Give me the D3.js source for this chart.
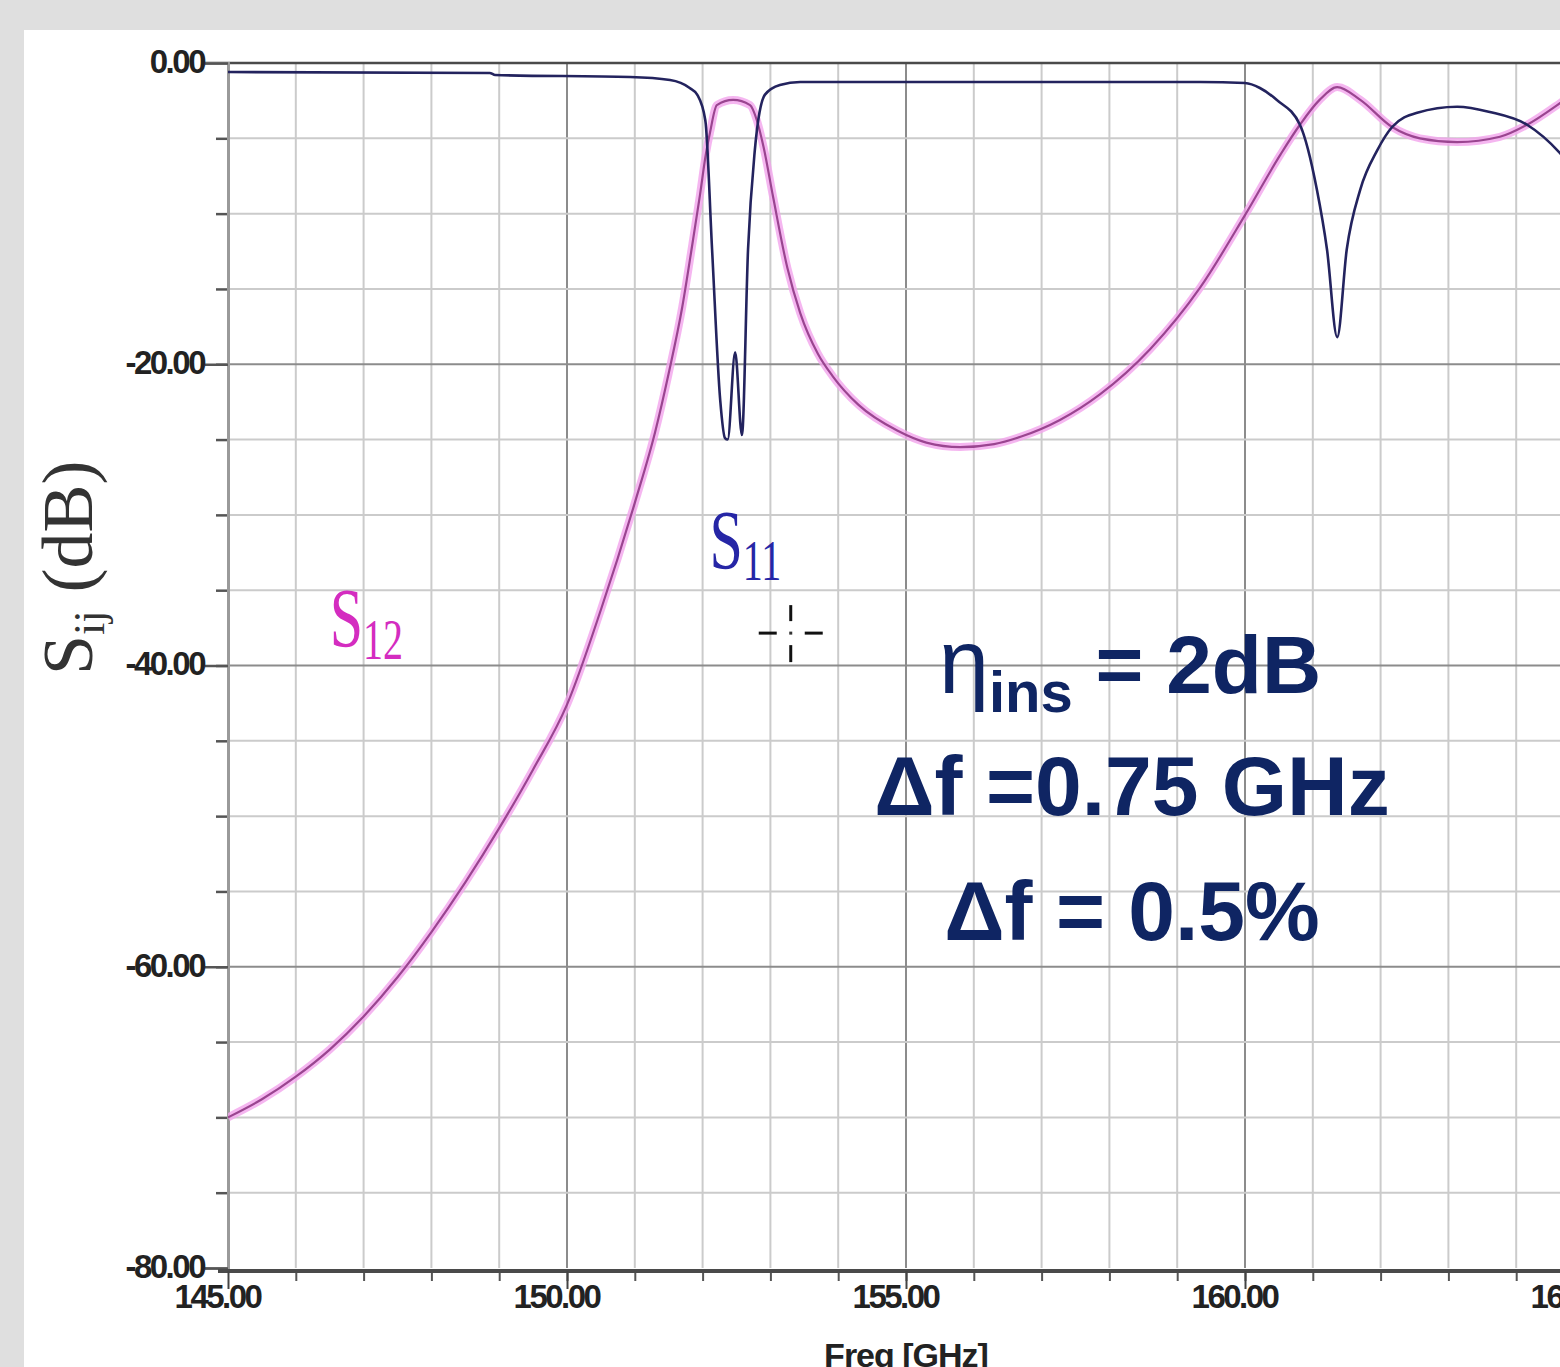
<!DOCTYPE html>
<html><head><meta charset="utf-8">
<script src="https://cdn.jsdelivr.net/npm/d3@7"></script>
<style>
html,body{margin:0;padding:0;background:#dfdfdf;overflow:hidden}
svg{display:block}
.tick text{font-family:"Liberation Sans",Arial,sans-serif}
</style>
</head><body>
<svg id="chart"></svg>
<script>
// ---- data ----
const freqDomain = [145, 165];
const dbDomain = [-80, 0];
const xLabelTicks = [145, 150, 155, 160, 165];
const yLabelTicks = [0, -20, -40, -60, -80];

const s11Freq = [145.0, 148.86, 148.94, 150.93, 151.52, 151.81, 151.92, 152.04, 152.14, 152.26, 152.33, 152.37, 152.48, 152.58, 152.67, 152.77, 152.92, 153.14, 153.44, 159.34, 160.0, 160.22, 160.47, 160.81, 161.06, 161.21, 161.36, 161.5, 161.7, 161.95, 162.17, 162.54, 163.13, 163.61, 164.16, 164.65, 165.0];
const s11Db   = [-0.6, -0.66, -0.8, -0.93, -1.13, -1.66, -2.1, -3.8, -12.4, -22.4, -24.9, -25.0, -19.2, -24.7, -12.4, -5.8, -2.1, -1.46, -1.26, -1.26, -1.33, -1.66, -2.46, -4.1, -8.4, -12.4, -18.2, -12.4, -8.4, -5.8, -4.25, -3.3, -2.9, -3.25, -4.1, -6.0, -8.0];

const s12Freq = [145.0, 145.5, 146.0, 146.5, 147.0, 147.5, 148.0, 148.5, 149.0, 149.5, 150.0, 150.5, 151.0, 151.3, 151.5, 151.7, 151.85, 151.96, 152.05, 152.11, 152.21, 152.45, 152.7, 152.8, 152.9, 153.04, 153.25, 153.44, 153.7, 153.92, 154.3, 154.87, 155.3, 155.8, 156.3, 156.7, 157.27, 157.86, 158.6, 159.34, 160.0, 160.52, 160.81, 161.1, 161.36, 161.7, 162.17, 162.58, 163.13, 163.76, 164.16, 164.65, 165.0];
const s12Db   = [-70.0, -68.8, -67.3, -65.5, -63.3, -60.7, -57.7, -54.4, -50.8, -46.9, -42.6, -36.3, -29.2, -24.5, -20.6, -16.2, -12.0, -8.8, -6.0, -4.6, -2.8, -2.45, -2.8, -3.8, -5.6, -8.9, -13.6, -16.6, -19.3, -20.8, -22.7, -24.4, -25.2, -25.5, -25.3, -24.8, -23.7, -22.0, -19.0, -14.9, -10.1, -6.1, -4.1, -2.45, -1.6, -2.45, -4.25, -5.0, -5.25, -4.9, -4.1, -2.65, -1.5];

// ---- layout ----
const W = 1560, H = 1367;
const svg = d3.select('#chart').attr('width', W).attr('height', H);

svg.append('rect').attr('width', W).attr('height', H).attr('fill', '#dfdfdf');
svg.append('rect').attr('x', 24).attr('y', 30).attr('width', W - 24).attr('height', H - 30).attr('fill', '#fff');

const x = d3.scaleLinear().domain(freqDomain).range([228, 1584]);
const y = d3.scaleLinear().domain(dbDomain).range([1268, 63]);

// grid
const grid = svg.append('g');
grid.selectAll('line.v').data(d3.range(146, 166, 1)).join('line')
  .attr('x1', d => x(d)).attr('x2', d => x(d)).attr('y1', y(0)).attr('y2', y(-80))
  .attr('stroke', d => d % 5 === 0 ? '#8c8c8c' : '#cbcbcb').attr('stroke-width', 2);
grid.selectAll('line.h').data(d3.range(-75, 0, 5)).join('line')
  .attr('x1', x(145)).attr('x2', W).attr('y1', d => y(d)).attr('y2', d => y(d))
  .attr('stroke', d => d % 20 === 0 ? '#8c8c8c' : '#cbcbcb').attr('stroke-width', 2);

// top frame
svg.append('line').attr('x1', 205).attr('x2', W).attr('y1', y(0)).attr('y2', y(0))
  .attr('stroke', '#4a4a4a').attr('stroke-width', 2.5);

// left axis: minor ticks then labelled
svg.append('g').attr('transform', `translate(${x(145)},0)`)
  .call(d3.axisLeft(y).tickValues(d3.range(-75, 0, 5)).tickSize(12).tickFormat(''))
  .call(g => g.select('.domain').remove())
  .call(g => g.selectAll('line').attr('stroke', '#555').attr('stroke-width', 2.5));

svg.append('g').attr('transform', `translate(${x(145)},0)`)
  .call(d3.axisLeft(y).tickValues(yLabelTicks).tickSize(23).tickPadding(1).tickFormat(d => d.toFixed(2)))
  .call(g => g.select('.domain').attr('stroke', '#9a9a9a').attr('stroke-width', 3))
  .call(g => g.selectAll('line').attr('stroke', '#555').attr('stroke-width', 2.5))
  .call(g => g.selectAll('text').attr('font-size', 33).attr('font-weight', 'bold').attr('letter-spacing', -2.5)
    .attr('fill', '#222').attr('dy', '0.28em'));

// bottom axis
svg.append('g').attr('transform', `translate(0,${y(-80) + 3})`)
  .call(d3.axisBottom(x).tickValues(d3.range(146, 166, 1)).tickSize(10).tickFormat(''))
  .call(g => g.select('.domain').remove())
  .call(g => g.selectAll('line').attr('stroke', '#555').attr('stroke-width', 2));

svg.append('g').attr('transform', `translate(0,${y(-80) + 3})`)
  .call(d3.axisBottom(x).tickValues(xLabelTicks).tickSize(18).tickPadding(2).tickFormat(d => d.toFixed(2)))
  .call(g => g.select('.domain').attr('d', `M${x(145) - 10},0H${W}`).attr('stroke', '#4a4a4a').attr('stroke-width', 4))
  .call(g => g.selectAll('line').attr('stroke', '#444').attr('stroke-width', 2))
  .call(g => g.selectAll('text').attr('font-size', 33).attr('font-weight', 'bold').attr('letter-spacing', -2.5)
    .attr('fill', '#222').attr('dx', -11).attr('dy', '0.5em'));

svg.append('text').attr('x', x(155)).attr('y', 1367).attr('text-anchor', 'middle')
  .attr('font-family', '"Liberation Sans",Arial,sans-serif').attr('font-size', 34).attr('font-weight', 'bold')
  .attr('letter-spacing', -1).attr('fill', '#222').text('Freq [GHz]');

// y title
const yt = svg.append('text').attr('transform', 'translate(92,675) rotate(-90)')
  .attr('font-family', '"Liberation Serif","Times New Roman",serif').attr('fill', '#333');
yt.append('tspan').attr('font-size', 72).text('S');
yt.append('tspan').attr('font-size', 44).attr('dy', 12).text('ij');
yt.append('tspan').attr('font-size', 72).attr('dy', -12).text(' (dB)');

// curves
svg.append('clipPath').attr('id', 'plot').append('rect')
  .attr('x', x(145)).attr('y', y(0)).attr('width', W - x(145)).attr('height', y(-80) - y(0));
const plot = svg.append('g').attr('clip-path', 'url(#plot)');

const line = d3.line().x(d => x(d[0])).y(d => y(d[1])).curve(d3.curveMonotoneX);
const s11 = s11Freq.map((f, i) => [f, s11Db[i]]);
const s12 = s12Freq.map((f, i) => [f, s12Db[i]]);

plot.append('path').attr('d', line(s12)).attr('fill', 'none')
  .attr('stroke', '#f2a4ec').attr('stroke-width', 8).attr('stroke-opacity', 0.8);
plot.append('path').attr('d', line(s12)).attr('fill', 'none')
  .attr('stroke', '#9a4590').attr('stroke-width', 2.2);
plot.append('path').attr('d', line(s11)).attr('fill', 'none')
  .attr('stroke', '#23235e').attr('stroke-width', 2.6);

// curve labels
function curveLabel(f, db, main, sub, color) {
  const t = svg.append('text').attr('transform', `translate(${x(f)},${y(db)}) scale(1,1.4)`)
    .attr('font-family', '"Liberation Serif","Times New Roman",serif').attr('fill', color);
  t.append('tspan').attr('font-size', 60).text(main);
  t.append('tspan').attr('font-size', 40).attr('dy', 8).text(sub);
}
curveLabel(146.5, -38.8, 'S', '12', '#d42cc0');
curveLabel(152.1, -33.6, 'S', '11', '#2626a6');

// cursor crosshair
const cx = x(153.3), cy = y(-37.85);
const cur = svg.append('g').attr('stroke', '#111').attr('stroke-width', 3);
[[0, -28, 0, -12], [0, 12, 0, 29], [-32, 0, -14, 0], [14, 0, 32, 0]].forEach(s =>
  cur.append('line').attr('x1', cx + s[0]).attr('y1', cy + s[1]).attr('x2', cx + s[2]).attr('y2', cy + s[3]));
svg.append('rect').attr('x', cx - 1.5).attr('y', cy - 1.5).attr('width', 3).attr('height', 3).attr('fill', '#333');

// annotation
const ann = svg.append('g').attr('font-family', '"Liberation Sans",Arial,sans-serif')
  .attr('font-weight', 'bold').attr('fill', '#0f2563').attr('text-anchor', 'middle');
const l1 = ann.append('text').attr('x', 1130).attr('y', 693).attr('font-size', 82);
l1.append('tspan').attr('font-weight', 'normal').attr('font-size', 90).text('η');
l1.append('tspan').attr('font-size', 58).attr('dy', 19).text('ins');
l1.append('tspan').attr('dy', -19).text(' = 2dB');
ann.append('text').attr('x', 1132).attr('y', 815).attr('font-size', 84).text('Δf =0.75 GHz');
ann.append('text').attr('x', 1132).attr('y', 940).attr('font-size', 84).text('Δf = 0.5%');
</script>
</body></html>
